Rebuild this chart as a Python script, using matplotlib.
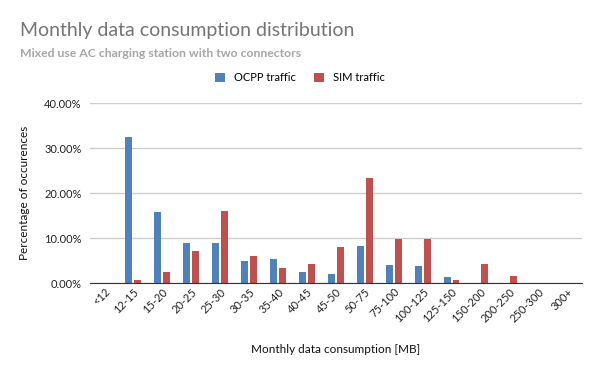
import matplotlib
matplotlib.use("Agg")
import numpy as np
from matplotlib import pyplot as plt
from matplotlib.ticker import FuncFormatter

categories = ["<12", "12-15", "15-20", "20-25", "25-30", "30-35", "35-40",
              "40-45", "45-50", "50-75", "75-100", "100-125", "125-150",
              "150-200", "200-250", "250-300", "300+"]
ocpp = [0.0, 32.4, 15.8, 8.9, 8.9, 4.95, 5.4, 2.5, 2.1, 8.3, 4.05, 3.85,
        1.4, 0.0, 0.0, 0.0, 0.0]
sim = [0.0, 0.7, 2.5, 7.2, 16.0, 6.05, 3.4, 4.3, 8.05, 23.3, 9.85, 9.85,
       0.7, 4.3, 1.6, 0.0, 0.0]

plt.rcParams["font.family"] = ["Lato", "DejaVu Sans"]

fig = plt.figure(figsize=(6, 3.71), dpi=100)
ax = fig.add_axes([0.15, 0.2364, 0.8195, 0.4852])

x = np.arange(len(categories))
ax.bar(x - 0.155, ocpp, width=0.24, color="#4F81BD", label="OCPP traffic")
ax.bar(x + 0.155, sim, width=0.24, color="#C0504D", label="SIM traffic")

ax.set_xlim(-0.5, len(categories) - 0.5)
ax.set_ylim(0, 40)
ax.set_yticks([0, 10, 20, 30, 40])
ax.yaxis.set_major_formatter(FuncFormatter(lambda v, p: f"{v:.2f}%"))
ax.grid(axis="y", color="#cccccc", linewidth=1)
ax.set_axisbelow(True)
for s in ["top", "right", "left"]:
    ax.spines[s].set_visible(False)
ax.spines["bottom"].set_color("#333333")
ax.tick_params(axis="y", length=0, labelsize=8, colors="#222222", pad=6)
ax.tick_params(axis="x", length=0, labelsize=8, colors="#222222", pad=2)
ax.set_xticks(x)
ax.set_xticklabels(categories, rotation=45, ha="right", rotation_mode="anchor")

ax.set_xlabel("Monthly data consumption [MB]", fontsize=8.5, color="#111111",
              labelpad=14)
ax.set_ylabel("Percentage of occurences", fontsize=8.5, color="#111111",
              labelpad=10)

fig.text(0.033, 0.918, "Monthly data consumption distribution",
         fontsize=14, color="#757575", va="center")
fig.text(0.033, 0.856, "Mixed use AC charging station with two connectors",
         fontsize=8.8, color="#a6a6a6", fontweight="bold", va="center")

fig.legend(loc="center", bbox_to_anchor=(0.5, 0.79), ncol=2, frameon=False,
           fontsize=8, handlelength=0.9, handleheight=0.9, columnspacing=1.6,
           handletextpad=0.8)

fig.savefig("out.png", dpi=100)
